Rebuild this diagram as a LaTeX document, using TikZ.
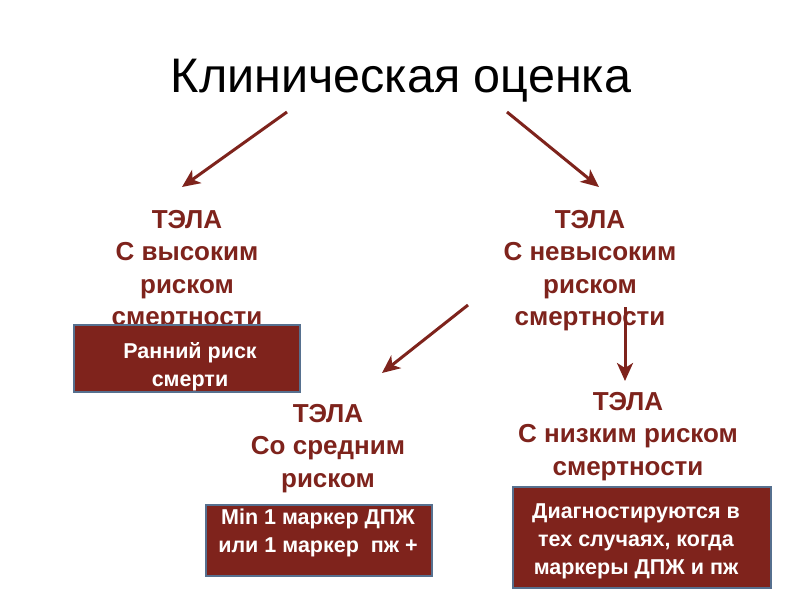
\documentclass[tikz,border=0pt]{standalone}
\usepackage{fontspec}
\setmainfont{Liberation Sans}
\usetikzlibrary{arrows.meta}
\definecolor{dred}{HTML}{7E231C}
\definecolor{boxred}{HTML}{7F231C}
\definecolor{boxedge}{HTML}{56708F}
\tikzset{
  lbl/.style={align=center,inner sep=0pt,anchor=north,text=dred,font=\bfseries\fontsize{26}{32.5}\selectfont},
  box/.style={draw=boxedge,line width=1.2pt,fill=boxred},
  boxtext/.style={text=white,align=center,font=\bfseries\fontsize{21.5}{28}\selectfont,inner sep=0pt,anchor=north},
  arr/.style={draw=dred,line width=3pt,-{Stealth[length=18pt,width=16pt,inset=5pt]}}
}
\begin{document}
\begin{tikzpicture}[x=1pt,y=-1pt]
\useasboundingbox[fill=white] (0,0) rectangle (800,600);
\node[font=\fontsize{48.5}{52}\selectfont,inner sep=0pt,anchor=base] (title) at (401,92) {Клиническая оценка};
\coordinate (a1s) at (287,112); \coordinate (a1e) at (182,187);
\coordinate (a2s) at (507,112); \coordinate (a2e) at (599,187);
\coordinate (a3s) at (468,305); \coordinate (a3e) at (382,373);
\coordinate (a4s) at (625,307); \coordinate (a4e) at (625,381);
\node[lbl] (high) at (187,210) {ТЭЛА\\С высоким\\риском\\смертности};
\node[lbl] (nhigh) at (590,210) {ТЭЛА\\С невысоким\\риском\\смертности};
\node[lbl] (mid) at (328,404) {ТЭЛА\\Со средним\\риском\\смертности};
\node[lbl] (low) at (628,392) {ТЭЛА\\С низким риском\\смертности};
\draw[arr] (a1s) -- (a1e);
\draw[arr] (a2s) -- (a2e);
\draw[arr] (a3s) -- (a3e);
\draw[arr] (a4s) -- (a4e);
\path[box] (74,325) rectangle (300,392);
\node[boxtext] (b1) at (190,342) {Ранний риск\\смерти};
\path[box] (206,505) rectangle (432,576);
\node[boxtext] (b2) at (318,509) {Min 1 маркер ДПЖ\\или 1 маркер\ \ пж +};
\path[box] (513,487) rectangle (771,588);
\node[boxtext] (b3) at (636,503) {Диагностируются в\\тех случаях, когда\\маркеры ДПЖ и пж};
\end{tikzpicture}
\end{document}
